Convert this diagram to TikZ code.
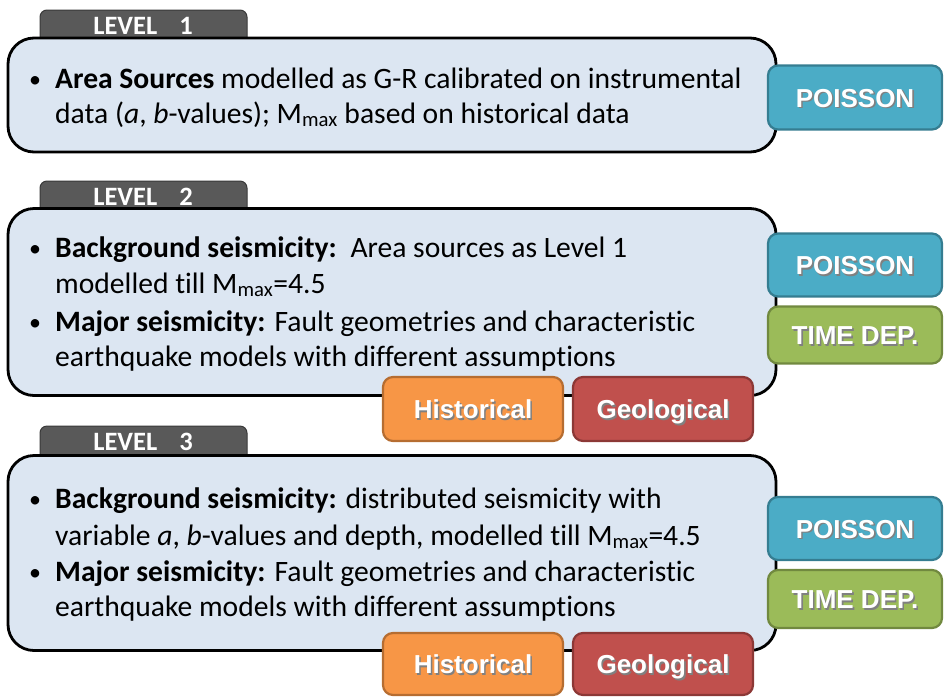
\documentclass[tikz,border=0pt]{standalone}
\usepackage{fontspec}
\setmainfont{Carlito}[Ligatures={NoCommon}]
\newfontfamily\btnfont{Liberation Sans}
\definecolor{boxfill}{HTML}{DCE6F2}
\definecolor{tabgray}{HTML}{595959}
\definecolor{tabedge}{HTML}{3A3A3A}
\definecolor{poissonfill}{HTML}{4BACC6}
\definecolor{poissonedge}{HTML}{357D91}
\definecolor{timefill}{HTML}{9BBB59}
\definecolor{timeedge}{HTML}{71893F}
\definecolor{histfill}{HTML}{F79646}
\definecolor{histedge}{HTML}{B66D31}
\definecolor{geofill}{HTML}{C0504D}
\definecolor{geoedge}{HTML}{8C3836}
\newcommand\shadowtxt[1]{\makebox[0pt][l]{\hspace{1.6pt}\raisebox{-1.6pt}{\color{black!50}#1}}#1}
\tikzset{
  panel/.style={draw=black, line width=2.8pt, fill=boxfill, rounded corners=26pt, inner sep=0pt},
  leveltab/.style={draw=tabedge, line width=1pt, fill=tabgray, rounded corners=7pt, inner sep=0pt, minimum width=207, minimum height=40},
  tabtxt/.style={text=white, font=\fontsize{26.5}{28}\selectfont\bfseries, inner sep=0pt},
  btn/.style={line width=2.2pt, rounded corners=10pt, inner sep=0pt, text=white, text height=19pt, text depth=0pt, font=\btnfont\fontsize{26}{28}\selectfont\bfseries},
  poisson/.style={btn, fill=poissonfill, draw=poissonedge, minimum width=174},
  timedep/.style={btn, fill=timefill, draw=timeedge, minimum width=174},
  hist/.style={btn, fill=histfill, draw=histedge, minimum width=180},
  geo/.style={btn, fill=geofill, draw=geoedge, minimum width=180},
  bul/.style={anchor=base, inner sep=0pt, font=\fontsize{24}{30}\selectfont},
  txt/.style={anchor=base west, inner sep=0pt, font=\fontsize{29.6}{34}\selectfont}
}
\begin{document}
\begin{tikzpicture}[x=1pt,y=-1pt]
\useasboundingbox (0,0) rectangle (945,697);
% ---------- LEVEL 1 ----------
\node[leveltab] (tab1) at (143.5,30) {};
\node[panel, minimum width=768, minimum height=114] (p1) at (392,95) {};
\node[tabtxt] (t1) at (143,26) {LEVEL\hspace{22pt}1};
\node[bul] (b1a) at (35,87) {•};
\node[txt] (l1a) at (55,88) {\textbf{Area Sources} modelled as G-R calibrated on instrumental};
\node[txt] (l1b) at (55,123) {data (\textit{a}, \textit{b}-values); M\textsubscript{max} based on historical data};
\node[poisson, minimum height=64] (po1) at (855,97.5) {\shadowtxt{POISSON}};
% ---------- LEVEL 2 ----------
\node[leveltab] (tab2) at (143.5,201) {};
\node[panel, minimum width=768, minimum height=187] (p2) at (392,302) {};
\node[tabtxt] (t2) at (143,197) {LEVEL\hspace{22pt}2};
\node[bul] (b2a) at (35,256) {•};
\node[txt] (l2a) at (55,257) {\textbf{Background seismicity:}\, Area sources as Level 1};
\node[txt] (l2b) at (55,293) {modelled till M\textsubscript{max}=4.5};
\node[bul] (b2c) at (35,330) {•};
\node[txt] (l2c) at (55,331) {\textbf{Major seismicity:} Fault geometries and characteristic};
\node[txt] (l2d) at (55,366) {earthquake models with different assumptions};
\node[poisson, minimum height=63] (po2) at (855,265) {\shadowtxt{POISSON}};
\node[timedep, minimum height=57] (td2) at (855,335) {\shadowtxt{TIME DEP.}};
\node[hist, minimum height=64] (h2) at (473,409) {\shadowtxt{Historical}};
\node[geo, minimum height=64] (g2) at (663,409) {\shadowtxt{Geological}};
% ---------- LEVEL 3 ----------
\node[leveltab] (tab3) at (143.5,446) {};
\node[panel, minimum width=768, minimum height=195] (p3) at (392,553) {};
\node[tabtxt] (t3) at (143,442) {LEVEL\hspace{22pt}3};
\node[bul] (b3a) at (35,507) {•};
\node[txt] (l3a) at (55,508) {\textbf{Background seismicity:} distributed seismicity with};
\node[txt] (l3b) at (55,545) {variable \textit{a}, \textit{b}-values and depth, modelled till M\textsubscript{max}=4.5};
\node[bul] (b3c) at (35,580) {•};
\node[txt] (l3c) at (55,581) {\textbf{Major seismicity:} Fault geometries and characteristic};
\node[txt] (l3d) at (55,616) {earthquake models with different assumptions};
\node[poisson, minimum height=63] (po3) at (855,528.5) {\shadowtxt{POISSON}};
\node[timedep, minimum height=58] (td3) at (855,599) {\shadowtxt{TIME DEP.}};
\node[hist, minimum height=62] (h3) at (473,664) {\shadowtxt{Historical}};
\node[geo, minimum height=62] (g3) at (663,664) {\shadowtxt{Geological}};
\end{tikzpicture}
\end{document}
